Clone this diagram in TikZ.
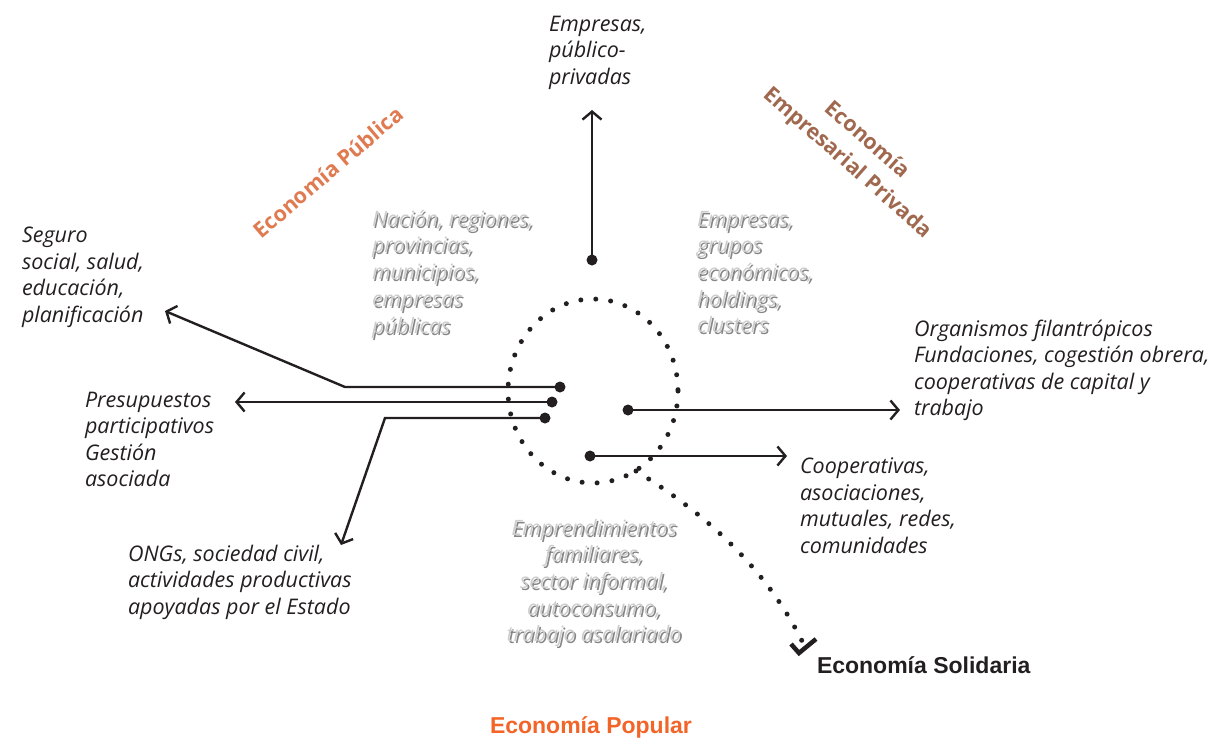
\documentclass[tikz,border=0pt]{standalone}
\usepackage{fontspec}
\setmainfont{Open Sans}
\newfontfamily\headfont{Open Sans}
\newfontfamily\labelfont{Liberation Sans}
\usetikzlibrary{arrows.meta,calc}

\definecolor{publica}{HTML}{E07A50}
\definecolor{privada}{HTML}{A0694F}
\definecolor{popular}{HTML}{F26428}
\definecolor{ink}{HTML}{231F20}
\definecolor{embossfill}{HTML}{CDCDCD}
\definecolor{embossshade}{HTML}{666666}

% gray text with a drop shade
\newcommand{\embossnode}[4]{%
  \node[shade,#1] (#2-sh) at ($(#3)+(1.7,2)$) {#4};
  \node[emboss,#1] (#2) at (#3) {#4};}

\begin{document}
\begin{tikzpicture}[x=1pt, y=-1pt,
    every node/.style={inner sep=0pt, outer sep=0pt},
    sector/.style={font=\fontsize{21.5}{26.5}\selectfont\itshape, text=ink, align=left, anchor=north west},
    emboss/.style={font=\fontsize{21.2}{26.7}\selectfont\itshape, text=embossfill},
    shade/.style={font=\fontsize{21.2}{26.7}\selectfont\itshape, text=embossshade, opacity=0.8},
    header/.style={font=\headfont\bfseries\fontsize{21.5}{30}\selectfont, align=center},
    sector title/.style={font=\labelfont\bfseries\fontsize{23}{26}\selectfont, anchor=base west},
    hub/.style={circle, fill=ink, minimum size=11pt},
    flow/.style={draw=ink, line width=2.4pt, -{Straight Barb[length=8pt,width=19pt,line width=2.4pt]}},
    spiral/.style={draw=ink, line width=5pt, line cap=round, dash pattern=on 0pt off 15pt}]

	\useasboundingbox (0,0) rectangle (1212,740);

	% Sector titles
	\node[header, text=publica, rotate=40.4] (publica) at (328,172) {Economía Pública};
	\node[header, text=privada, rotate=-41.3] (privada) at (857,152) {Economía\\Empresarial Privada};
	\node[sector title, text=ink] (solidaria) at (817,673) {Economía Solidaria};
	\node[sector title, text=popular] (popular) at (490,733) {Economía Popular};

	% Gray labels round the spiral
	\embossnode{align=left, anchor=north west}{nacion}{372,210}{Nación, regiones,\\provincias,\\municipios,\\empresas\\públicas}
	\embossnode{align=left, anchor=north west}{grupos}{697,211}{Empresas,\\grupos\\económicos,\\holdings,\\clusters}
	\embossnode{align=center, anchor=north}{familiares}{594,519}{Emprendimientos\\familiares,\\sector informal,\\autoconsumo,\\trabajo asalariado}

	% Outer labels
	\node[sector] (mixtas) at (549,16) {Empresas,\\público-\\privadas};
	\node[sector] (seguro) at (22,227) {Seguro\\social, salud,\\educación,\\planificación};
	\node[sector] (presupuestos) at (85,392) {Presupuestos\\participativos\\Gestión\\asociada};
	\node[sector] (ongs) at (128,545) {ONGs, sociedad civil,\\actividades productivas\\apoyadas por el Estado};
	\node[sector] (organismos) at (914,320) {Organismos filantrópicos\\Fundaciones, cogestión obrera,\\cooperativas de capital y\\trabajo};
	\node[sector] (cooperativas) at (800,458) {Cooperativas,\\asociaciones,\\mutuales, redes,\\comunidades};

	% Draw the dotted spiral
	\coordinate (center) at (593,391);
	\coordinate (loopexit) at (636,471);
	\coordinate (soltip) at (803,643);
	\draw[spiral] (center) ellipse [x radius=85, y radius=92];
	\draw[spiral] (loopexit) .. controls (700,510) and (765,565) .. (soltip);
	\draw[ink, line width=4.5pt] ($(soltip)+(-12,1)$) -- ($(soltip)+(-4,10)$) -- ($(soltip)+(13,-4)$);

	% Draw the hubs and the arrows leaving them
	\node[hub] (hubtop) at (592,260) {};
	\node[hub] (hubseguro) at (560,387) {};
	\node[hub] (hubpresup) at (552,402) {};
	\node[hub] (hubongs) at (545,418) {};
	\node[hub] (huborg) at (628,410) {};
	\node[hub] (hubcoop) at (590,456) {};

	\coordinate (tiptop) at (592,110);
	\coordinate (bendseguro) at (345,387);
	\coordinate (tipseguro) at (165,311);
	\coordinate (tippresup) at (235,402);
	\coordinate (bendongs) at (385,418);
	\coordinate (tipongs) at (341,545);
	\coordinate (tiporg) at (900,410);
	\coordinate (tipcoop) at (787,456);

	\draw[flow] (hubtop.center) -- (tiptop);
	\draw[flow] (hubseguro.center) -- (bendseguro) -- (tipseguro);
	\draw[flow] (hubpresup.center) -- (tippresup);
	\draw[flow] (hubongs.center) -- (bendongs) -- (tipongs);
	\draw[flow] (huborg.center) -- (tiporg);
	\draw[flow] (hubcoop.center) -- (tipcoop);

\end{tikzpicture}
\end{document}
